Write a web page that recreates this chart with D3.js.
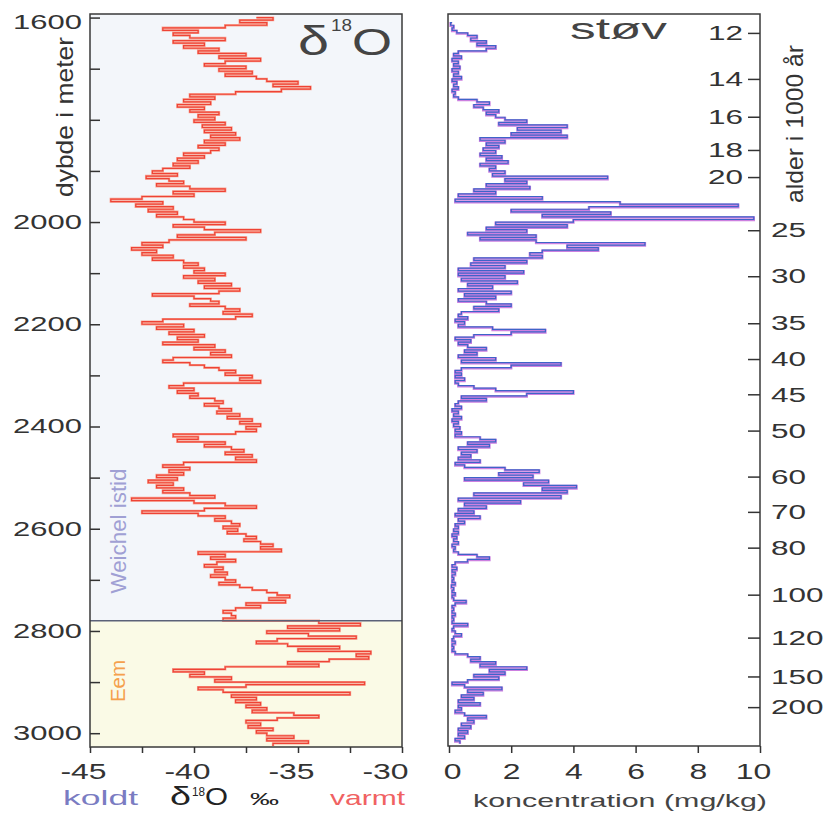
<!DOCTYPE html>
<html><head><meta charset="utf-8">
<script src="https://cdn.jsdelivr.net/npm/d3@7"></script>
<style>
body{margin:0;background:#fff}
svg{display:block}
text{font-family:"Liberation Sans",Arial,sans-serif;}
</style>
</head><body>
<svg id="c" width="830" height="815"></svg>
<script>
// ---------- data ----------
const d18oStartDepth = 1600;   // m, first sample
const dustStartDepth = 1610;   // m, first sample
const sampleStep = 5;          // m between samples

// delta-18O (permil), one value per 5 m from 1600 m
const d18o = [
 -37.0,-36.2,-37.8,-36.5,-38.5,-41.5,-39.8,-41.0,-40.2,-38.5,-41.0,-39.5,-40.5,-38.8,-39.8,-37.5,-38.8,-36.8,-38.5,-39.5,
 -37.5,-38.8,-37.2,-38.5,-37.0,-36.5,-35.0,-36.2,-34.4,-35.8,-38.0,-40.2,-39.0,-40.5,-39.2,-40.8,-39.5,-40.2,-38.8,-39.8,
 -39.0,-40.0,-38.5,-39.6,-38.2,-39.5,-38.0,-39.2,-37.8,-39.5,-38.5,-39.8,-38.8,-39.2,-40.5,-39.5,-40.8,-39.8,-41.0,-40.2,
 -41.5,-42.0,-40.8,-42.3,-41.2,-40.5,-41.8,-40.2,-38.5,-41.0,-40.0,-42.5,-44.0,-41.5,-42.8,-41.0,-42.2,-40.8,-41.8,-40.5,
 -40.0,-38.5,-41.0,-39.5,-36.8,-39.0,-40.8,-37.5,-41.2,-42.5,-41.5,-43.0,-41.8,-42.5,-41.0,-42.0,-40.5,-39.8,-40.5,-39.5,
 -40.0,-38.5,-40.5,-39.0,-39.8,-38.2,-39.5,-37.8,-38.8,-42.0,-40.0,-39.2,-38.8,-40.2,-38.5,-37.8,-38.6,-37.2,-38.0,-41.5,
 -42.5,-40.5,-41.8,-40.0,-41.2,-39.5,-40.8,-39.8,-41.5,-39.0,-40.0,-38.5,-39.2,-38.2,-41.0,-41.5,-40.2,-39.5,-38.8,-38.0,
 -38.5,-37.2,-37.8,-36.8,-40.5,-41.2,-40.0,-40.8,-39.8,-40.2,-39.0,-38.6,-39.5,-38.8,-38.2,-38.9,-37.8,-38.4,-37.2,-37.8,
 -36.8,-37.5,-37.0,-38.0,-41.0,-39.8,-40.8,-38.5,-39.5,-38.2,-37.6,-38.5,-37.2,-38.0,-37.0,-40.5,-41.5,-40.2,-41.2,-40.5,
 -41.8,-40.8,-42.2,-41.0,-41.8,-40.5,-41.5,-40.2,-39.0,-43.0,-40.0,-38.5,-37.0,-39.5,-42.5,-39.8,-38.5,-39.0,-38.2,-37.8,
 -38.6,-37.9,-38.4,-37.5,-37.0,-37.6,-36.8,-36.2,-36.8,-35.8,-39.8,-38.5,-39.2,-38.0,-38.9,-39.5,-38.6,-39.0,-38.4,-39.2,
 -38.5,-38.0,-38.8,-37.8,-37.2,-36.5,-36.0,-35.4,-36.4,-35.6,-37.5,-36.8,-38.0,-38.6,-38.2,-38.0,-38.6,-34.0,-32.0,-35.5,
 -33.0,-36.5,-34.5,-32.2,-36.0,-37.0,-35.5,-33.0,-35.0,-31.5,-32.2,-31.6,-33.5,-35.5,-34.0,-38.5,-41.0,-39.5,-40.2,-38.2,
 -39.0,-31.8,-37.5,-39.8,-38.6,-32.5,-38.2,-37.0,-38.0,-36.8,-37.5,-36.5,-37.2,-35.2,-34.0,-36.0,-37.5,-36.8,-37.4,-36.2,
 -37.0,-36.5,-35.2,-36.5,-34.5,-36.2
];

// dust concentration (mg/kg), one value per 5 m from 1610 m
const dust = [
 0.1,0.05,0.15,0.1,0.25,0.6,0.9,0.7,1.2,0.9,1.5,1.2,0.3,0.15,0.4,0.1,0.3,0.15,
 0.35,0.1,0.3,0.15,0.4,0.1,0.25,0.15,0.3,0.1,0.2,0.15,0.3,0.9,1.3,0.8,1.1,1.6,1.2,1.5,
 1.8,2.5,1.6,3.8,2.2,3.6,2.0,3.8,1.0,1.8,1.2,1.6,1.1,1.5,1.0,1.7,1.2,1.9,1.0,1.5,
 1.3,1.8,1.4,5.1,1.8,2.5,1.2,2.6,0.8,1.5,0.3,3.0,0.2,5.5,9.3,4.5,2.0,5.2,3.0,9.8,
 4.0,1.5,3.8,1.2,2.5,0.6,2.8,1.0,2.8,6.3,3.8,4.8,3.0,2.6,3.0,0.8,2.5,0.7,1.8,0.3,
 2.4,0.3,1.8,0.4,2.2,0.6,1.4,0.3,2.0,0.5,1.5,0.3,1.2,2.0,0.8,1.6,0.4,0.3,0.6,0.2,
 0.5,0.3,1.4,3.1,2.0,0.8,0.2,0.7,0.3,0.6,1.2,0.5,0.9,0.3,1.5,0.4,3.6,2.0,0.4,0.2,
 0.4,0.2,0.5,0.2,0.3,0.8,1.5,4.0,2.5,0.4,1.2,0.3,0.2,0.4,0.1,0.3,0.15,0.4,0.1,0.3,
 0.15,0.35,0.2,0.4,0.2,1.0,1.5,0.6,1.3,0.3,0.9,0.4,0.7,0.3,1.0,0.2,0.5,1.8,2.9,1.6,
 2.7,0.5,3.2,2.4,4.1,3.0,3.8,0.8,3.6,0.3,2.3,0.5,1.2,0.3,0.8,0.2,1.0,0.3,0.5,0.2,
 0.3,0.15,0.3,0.1,0.25,0.15,0.3,0.1,0.2,0.15,0.3,0.9,1.3,0.6,0.2,0.1,0.25,0.1,0.2,0.1,
 0.15,0.1,0.2,0.08,0.15,0.1,0.2,0.1,0.15,0.55,0.2,0.1,0.15,0.1,0.2,0.1,0.15,0.1,0.6,0.15,
 0.1,0.2,0.4,0.15,0.1,0.2,0.1,0.15,0.1,0.2,0.6,1.0,0.7,1.5,1.0,2.5,1.3,1.8,0.8,1.6,
 0.6,0.1,0.5,1.7,0.6,1.1,0.4,0.8,0.3,1.0,0.3,0.4,0.2,0.5,1.2,0.6,0.8,0.4,0.7,0.3,
 0.6,0.3,0.5,0.2,0.35
];

const depthTicks  = [1600,1700,1800,1900,2000,2100,2200,2300,2400,2500,2600,2700,2800,2900,3000];
const depthLabels = [1600,2000,2200,2400,2600,2800,3000];
const d18oTicks   = [-45,-42.5,-40,-37.5,-35,-32.5,-30];
const d18oLabels  = [-45,-40,-35,-30];
const dustTicks   = [0,2,4,6,8,10];
const ageLabels   = [12,14,16,18,20,25,30,35,40,45,50,60,70,80,100,120,150,200];
const ageDepths   = [1630,1720,1794,1859,1912,2016,2106,2198,2268,2337,2408,2498,2567,2637,2729,2813,2889,2949];
const eemTopDepth = 2780;

// ---------- drawing ----------
const svg = d3.select("#c");
const y  = d3.scaleLinear().domain([1593, 3027]).range([14, 747]);
const xL = d3.scaleLinear().domain([-45, -30]).range([90, 402]);
const xR = d3.scaleLinear().domain([0, 10]).range([449, 760]);
const TXT = "#333";

function stretch(sel, sx) {
  sel.attr("transform", function () {
    const x = +this.getAttribute("x") || 0;
    return `translate(${x},0) scale(${sx},1) translate(${-x},0)`;
  });
}

// backgrounds
svg.append("rect").attr("x", xL(-45)).attr("y", y(1593)).attr("width", xL(-30) - xL(-45))
   .attr("height", y(eemTopDepth) - y(1593)).attr("fill", "#f3f6fa");
svg.append("rect").attr("x", xL(-45)).attr("y", y(eemTopDepth)).attr("width", xL(-30) - xL(-45))
   .attr("height", y(3027) - y(eemTopDepth)).attr("fill", "#fafae6");

// clip paths
const defs = svg.append("defs");
defs.append("clipPath").attr("id", "clipL").append("rect")
   .attr("x", xL(-45)).attr("y", y(1593)).attr("width", xL(-30) - xL(-45)).attr("height", y(3027) - y(1593));
defs.append("clipPath").attr("id", "clipR").append("rect")
   .attr("x", xR(0) - 1).attr("y", y(1593)).attr("width", xR(10) - xR(0) + 1).attr("height", y(3027) - y(1593));

// delta-18O curve
const d18oPts = d18o.map((v, i) => ({ d: d18oStartDepth + i * sampleStep, v }));
const lineL = d3.line().x(p => xL(p.v)).y(p => y(p.d)).curve(d3.curveStepAfter);
const gL = svg.append("g").attr("clip-path", "url(#clipL)");
gL.append("path").datum(d18oPts).attr("d", lineL).attr("fill", "none")
  .attr("stroke", "#f8a595").attr("stroke-width", 2.4);
gL.append("path").datum(d18oPts).attr("d", lineL).attr("fill", "none")
  .attr("stroke", "#ee4335").attr("stroke-width", 1.2);

// boundary line Weichel / Eem
svg.append("line").attr("x1", xL(-45)).attr("x2", xL(-30)).attr("y1", y(eemTopDepth)).attr("y2", y(eemTopDepth))
   .attr("stroke", "#5b6178").attr("stroke-width", 1.5);

// dust curve
const dustPts = dust.map((v, i) => ({ d: dustStartDepth + i * sampleStep, v }));
const lineR = d3.line().x(p => xR(p.v)).y(p => y(p.d)).curve(d3.curveStepAfter);
const gR = svg.append("g").attr("clip-path", "url(#clipR)");
gR.append("path").datum(dustPts).attr("d", lineR).attr("fill", "none")
  .attr("stroke", "#cc80e0").attr("stroke-width", 2.4).attr("transform", "translate(0,0.6)");
gR.append("path").datum(dustPts).attr("d", lineR).attr("fill", "none")
  .attr("stroke", "#3e64c8").attr("stroke-width", 1.2);

// frames
svg.append("rect").attr("x", xL(-45)).attr("y", y(1593)).attr("width", xL(-30) - xL(-45))
   .attr("height", y(3027) - y(1593)).attr("fill", "none").attr("stroke", "#3a3a3a").attr("stroke-width", 1.5);
svg.append("rect").attr("x", xR(0) - 1).attr("y", y(1593)).attr("width", xR(10) - xR(0) + 1)
   .attr("height", y(3027) - y(1593) - 1).attr("fill", "none").attr("stroke", "#3a3a3a").attr("stroke-width", 1.5);

function styleAxis(g, fs) {
  g.select(".domain").remove();
  g.selectAll(".tick line").attr("stroke", "#333").attr("stroke-width", 1.5);
  g.selectAll(".tick text").attr("fill", TXT).attr("font-size", fs)
   .attr("font-family", '"Liberation Sans",Arial,sans-serif');
}

// left depth axis (inward ticks)
const axL = svg.append("g").attr("transform", `translate(${xL(-45)},0)`)
  .call(d3.axisLeft(y).tickValues(depthTicks).tickSize(-10).tickPadding(8)
        .tickFormat(d => depthLabels.includes(d) ? String(d) : ""));
styleAxis(axL, 20);
axL.selectAll(".tick").filter(d => d === 1600).select("text").attr("dy", "0.55em");
axL.selectAll(".tick text").call(stretch, 1.55);

// bottom delta axis
const axB = svg.append("g").attr("transform", `translate(0,${y(3027)})`)
  .call(d3.axisBottom(xL).tickValues(d18oTicks).tickSize(6).tickPadding(10)
        .tickFormat(d => d18oLabels.includes(d) ? String(d) : ""));
styleAxis(axB, 22);
axB.selectAll(".tick text").attr("x", d => d === -30 ? -17 : -7).call(stretch, 1.45);

// bottom dust axis
const axR = svg.append("g").attr("transform", `translate(0,${y(3027) - 1})`)
  .call(d3.axisBottom(xR).tickValues(dustTicks).tickSize(7).tickPadding(10).tickFormat(d => String(d)));
styleAxis(axR, 22);
axR.selectAll(".tick text").attr("x", d => d === 10 ? -7 : (d === 0 ? 3 : 0)).call(stretch, 1.45);

// right age axis: inner labels
const ageFmt = d => ageLabels[ageDepths.indexOf(d)];
const axA1 = svg.append("g").attr("transform", `translate(${xR(10)},0)`)
  .call(d3.axisLeft(y).tickValues(ageDepths.slice(0, 5)).tickSize(12).tickPadding(5).tickFormat(ageFmt));
styleAxis(axA1, 21);
axA1.selectAll(".tick text").call(stretch, 1.5);
const axA2 = svg.append("g").attr("transform", `translate(${xR(10)},0)`)
  .call(d3.axisRight(y).tickValues(ageDepths.slice(5)).tickSize(-12).tickPadding(11).tickFormat(ageFmt));
styleAxis(axA2, 21);
axA2.selectAll(".tick text").call(stretch, 1.5);

// axis titles
svg.append("text").attr("transform", "translate(73,117) rotate(-90)").attr("text-anchor", "middle")
   .attr("font-size", 24).attr("fill", TXT).attr("textLength", 160).attr("lengthAdjust", "spacingAndGlyphs")
   .text("dybde i meter");
svg.append("text").attr("transform", "translate(803,124) rotate(-90)").attr("text-anchor", "middle")
   .attr("font-size", 24).attr("fill", TXT).attr("textLength", 158).attr("lengthAdjust", "spacingAndGlyphs")
   .text("alder i 1000 år");

// period labels
svg.append("text").attr("transform", "translate(126,531) rotate(-90)").attr("text-anchor", "middle")
   .attr("font-size", 22).attr("fill", "#a0a0d4").attr("textLength", 125).attr("lengthAdjust", "spacingAndGlyphs")
   .text("Weichel istid");
svg.append("text").attr("transform", "translate(125,681) rotate(-90)").attr("text-anchor", "middle")
   .attr("font-size", 20).attr("fill", "#f5a04c").attr("textLength", 42).attr("lengthAdjust", "spacingAndGlyphs")
   .text("Eem");

// panel titles
function piece(x, yb, txt, fs, len, fill) {
  svg.append("text").attr("x", x).attr("y", yb).attr("font-size", fs).attr("fill", fill || "#444")
     .attr("textLength", len).attr("lengthAdjust", "spacingAndGlyphs").text(txt);
}
piece(298, 55, "δ", 40, 31);
piece(331, 31, "18", 17, 21);
piece(352, 55, "O", 37, 40);
piece(570, 39, "støv", 30, 97);

// bottom captions
piece(63, 805, "koldt", 21, 75, "#7a7cc2");
piece(330, 805, "varmt", 21, 75, "#f06262");
piece(170, 805, "δ", 25, 21, "#222");
piece(192, 796, "18", 12, 13, "#222");
piece(205, 805, "O", 24, 23, "#222");
piece(250, 805, "‰", 16, 29, "#222");
piece(473, 807, "koncentration  (mg/kg)", 19, 294, "#444");
</script>
</body></html>
